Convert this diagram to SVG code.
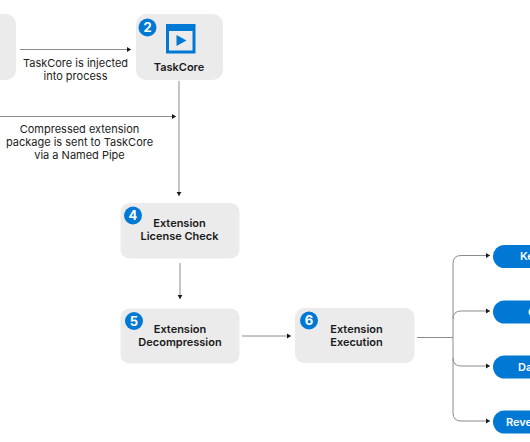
<svg xmlns="http://www.w3.org/2000/svg" width="530" height="442" viewBox="0 0 530 442">
<style>
text{font-family:Inter,"Liberation Sans",sans-serif;font-size:11px;text-anchor:middle;fill:#222}
.t{font-weight:600;fill:#1a1a1a}
.n{fill:#ebebeb}
.b{fill:#0078d4}
.bt{font-size:13px;font-weight:700;fill:#fff}
.p{font-weight:600;fill:#fff;text-anchor:start}
.c{fill:none;stroke:#8c8c8c;stroke-width:1;marker-end:url(#a)}
.l{fill:none;stroke:#8c8c8c;stroke-width:1}
</style>
<defs><marker id="a" markerUnits="userSpaceOnUse" markerWidth="5" markerHeight="6" refX="4.5" refY="3" orient="auto"><path d="M0 0.3L4.500 3L0 5.700Z" fill="#1a1a1a"/></marker></defs>
<g id="connectors">
<path class="c" d="M20 49.500H131"/>
<path class="c" d="M0 116.500H176"/>
<path class="c" d="M179 81V196"/>
<path class="c" d="M180 263V299"/>
<path class="c" d="M242 336H291"/>
<path class="l" d="M417 337.500H453"/>
<path class="c" d="M453 337.500V263.500Q453 255.500 461 255.500H490"/>
<path class="c" d="M453 337.500V413Q453 421 461 421H490"/>
<path class="c" d="M453 319Q453 311 461 311H490"/>
<path class="c" d="M453 358Q453 366 461 366H490"/>
</g>
<g id="node-1"><rect class="n" x="-30" y="14" width="46" height="66" rx="10"/></g>
<g id="node-2"><rect class="n" x="136" y="14" width="87" height="66" rx="10"/>
<rect x="166" y="24" width="29.500" height="29.500" fill="#0078d4"/><rect x="169" y="31" width="23.500" height="19.500" fill="#ebebeb"/><path d="M176.500 35V46L186.500 40.500Z" fill="#0078d4"/>
<circle class="b" cx="147.500" cy="27.500" r="9"/><text class="bt" x="147.500" y="32">2</text>
<text class="t" x="179" y="70.500">TaskCore</text></g>
<g id="node-4"><rect class="n" x="120.500" y="203" width="119" height="55.500" rx="9"/>
<circle class="b" cx="133" cy="215.500" r="9"/><text class="bt" x="133" y="220">4</text>
<text class="t" x="179.500" y="227">Extension</text><text class="t" x="179.500" y="240">License Check</text></g>
<g id="node-5"><rect class="n" x="120.500" y="308.500" width="119" height="55" rx="9"/>
<circle class="b" cx="134" cy="321" r="9"/><text class="bt" x="134" y="325.500">5</text>
<text class="t" x="180" y="333">Extension</text><text class="t" x="180" y="346">Decompression</text></g>
<g id="node-6"><rect class="n" x="295" y="308" width="119.500" height="55" rx="9"/>
<circle class="b" cx="309" cy="320.500" r="9"/><text class="bt" x="309" y="325">6</text>
<text class="t" x="356.500" y="333">Extension</text><text class="t" x="356.500" y="346">Execution</text></g>
<g id="labels">
<text x="75.500" y="67">TaskCore is injected</text><text x="75.500" y="80">into process</text>
<text x="79.500" y="132.500">Compressed extension</text><text x="79.500" y="145.500">package is sent to TaskCore</text><text x="79.500" y="158.500">via a Named Pipe</text>
</g>
<g id="node-a"><rect class="b" x="493" y="245" width="60" height="23" rx="11.500"/><text class="p" x="520" y="260">Ke</text></g>
<g id="node-b"><rect class="b" x="493" y="300.500" width="60" height="23" rx="11.500"/><text class="p" x="528" y="315.500">C</text></g>
<g id="node-c"><rect class="b" x="493" y="355.500" width="60" height="23" rx="11.500"/><text class="p" x="518" y="370.500">Da</text></g>
<g id="node-d"><rect class="b" x="493" y="410.500" width="60" height="23" rx="11.500"/><text class="p" x="506" y="425.500">Reve</text></g>
</svg>
